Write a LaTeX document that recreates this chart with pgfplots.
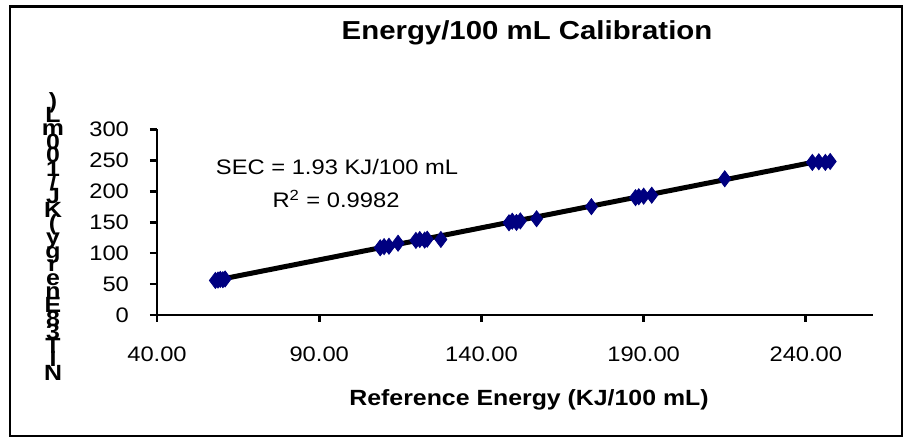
\documentclass[border=0pt]{standalone}
\usepackage{pgfplots}
\pgfplotsset{compat=1.18}
\usepackage{fontspec}
\setmainfont{Liberation Sans}[FakeStretch=1.13]
\definecolor{navy}{RGB}{0,0,128}
\newcommand{\ylab}{\vbox{\baselineskip=6.8pt\lineskiplimit=-\maxdimen\lineskip=0pt
\halign{\hfil##\hfil\cr )\cr L\cr m\cr 0\cr 0\cr 1\cr /\cr J\cr K\cr (\cr y\cr g\cr r\cr e\cr n\cr E\cr 8\cr 3\cr T\cr I\cr N\cr}}}
\begin{document}
\begin{tikzpicture}
\useasboundingbox (-78.5pt,-63.5pt) rectangle (376pt,157.5pt);
\begin{axis}[
  at={(0,0)}, anchor=south west,
  scale only axis,
  width=358pt, height=92.85pt,
  xmin=40, xmax=260.7, ymin=0, ymax=300,
  axis x line*=bottom, axis y line*=left,
  axis line style={-, line width=1.4pt},
  xtick={40,90,140,190,240},
  ytick={0,50,100,150,200,250,300},
  tick align=outside,
  major tick length=3.5pt,
  tick style={line width=1.4pt, black},
  /pgf/number format/assume math mode=true,
  xticklabel={\pgfmathprintnumber[fixed,fixed zerofill,precision=2]{\tick}},
  ticklabel style={font=\fontsize{10.5}{12}\selectfont},
  xticklabel style={yshift=-9pt},
  yticklabel style={xshift=-7pt},
  clip=false,
  title={Energy/100 mL Calibration},
  title style={at={(rel axis cs:0.5168,1)}, anchor=base, yshift=38.65pt, font=\bfseries\fontsize{13}{15}\selectfont},
  xlabel={Reference Energy (KJ/100 mL)},
  xlabel style={at={(rel axis cs:0.5196,0)}, anchor=center, yshift=-42.5pt, font=\bfseries\fontsize{11}{13}\selectfont},
]
\addplot[only marks, mark=diamond*, mark size=4pt, color=navy, fill=navy] coordinates {
  (58.0,55.8) (58.8,56.5) (59.5,57.5) (60.3,57.0) (61.0,58.2)
  (108.8,108.5) (110.0,110.5) (111.5,111.0) (114.3,116.0)
  (119.8,120.5) (121.0,122.0) (122.5,121.0) (123.3,122.5) (127.5,122.0)
  (148.5,149.0) (149.5,151.5) (150.8,149.5) (152.0,152.0) (157.0,155.5)
  (173.9,175.0)
  (187.5,189.5) (188.5,191.0) (190.0,192.0) (192.5,193.5)
  (215.0,220.0)
  (242.0,246.5) (244.0,247.5) (246.0,246.5) (247.5,248.0)
};
\addplot[black, line width=2.5pt, no marks] coordinates {(58.4,56.4) (246.3,250.9)};
\node[anchor=base, font=\fontsize{10.5}{12}\selectfont] at (rel axis cs:0.2514,0.7539) {SEC = 1.93 KJ/100 mL};
\node[anchor=base, font=\fontsize{10.5}{12}\selectfont] at (rel axis cs:0.2500,0.5762) {R\textsuperscript{2} = 0.9982};
\end{axis}
\node[anchor=center, inner sep=0pt, font=\bfseries\fontsize{11}{13}\selectfont] at (-52pt,39.25pt) {\ylab};
\draw[line width=1.25pt] (-73.5pt,-60.5pt) rectangle (372.5pt,154.15pt);
\end{tikzpicture}
\end{document}
